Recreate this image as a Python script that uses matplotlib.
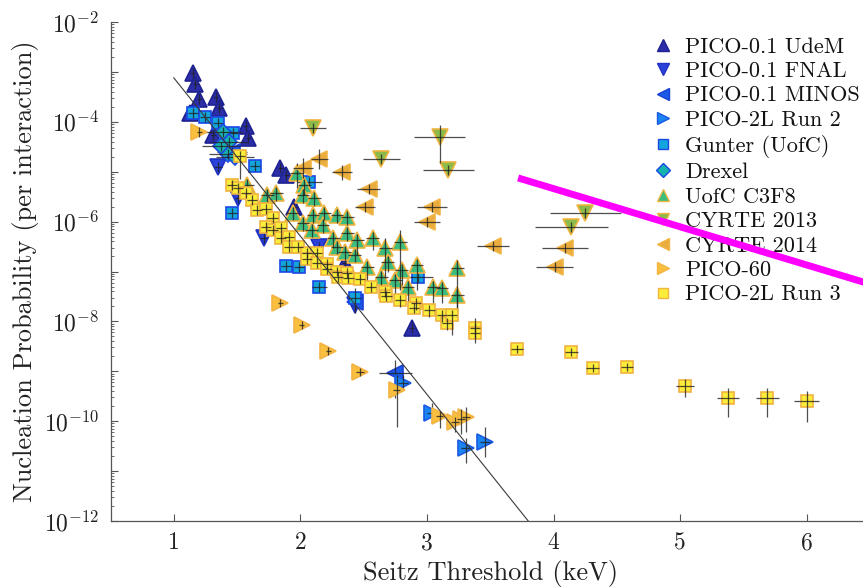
import numpy as np
import matplotlib
matplotlib.use("Agg")
import matplotlib.pyplot as plt
from matplotlib.lines import Line2D
from matplotlib.ticker import LogLocator, NullFormatter, FixedLocator, FixedFormatter

plt.rcParams['font.family'] = 'serif'
plt.rcParams['font.serif'] = ['cmr10']
plt.rcParams['mathtext.fontset'] = 'cm'
plt.rcParams['axes.formatter.use_mathtext'] = True

# ---------------- data (Seitz threshold in keV, nucleation probability) ----------------
udem_x = [1.15, 1.17, 1.20, 1.33, 1.36, 1.13, 1.31, 1.57, 1.59, 1.84, 1.89, 1.95, 2.35, 2.88]
udem_p = [9.5e-4, 5.8e-4, 2.8e-4, 3.2e-4, 1.9e-4, 1.5e-4, 5.5e-5, 8.3e-5, 4.8e-5, 1.2e-5, 8.5e-6, 2.0e-6, 1.5e-7, 7.4e-9]

fnal_x = [1.35, 1.51, 1.71, 2.15, 2.43]
fnal_p = [1.23e-5, 2.95e-6, 4.7e-7, 3.1e-7, 2.1e-8]

minos_x = [1.46, 2.43, 2.75]
minos_p = [2.5e-5, 2.5e-8, 9.3e-10]
minos_xerr = [0.12, 0.04, 0.13]
minos_dlo = [0.1, 0.1, 0.5]
minos_dhi = [0.1, 0.1, 0.26]

run2_x = [2.81, 3.04, 3.31, 3.46]
run2_p = [5.9e-10, 1.45e-10, 2.9e-11, 3.8e-11]
run2_xerr = [0.04, 0.04, 0.04, 0.04]
run2_dlo = [0.15, 0.2, 0.3, 0.3]
run2_dhi = [0.15, 0.2, 0.2, 0.3]

gunter_x = [1.15, 1.245, 1.35, 1.47, 1.64, 2.07, 1.46, 1.89, 1.99, 2.15, 2.43, 2.93]
gunter_p = [1.5e-4, 1.26e-4, 9.5e-5, 6.0e-5, 1.3e-5, 6.2e-6, 1.5e-6, 1.3e-7, 1.23e-7, 4.9e-8, 3.0e-8, 7.8e-8]
gunter_xerr = [0.04, 0.04, 0.04, 0.04, 0.04, 0.10, 0.04, 0.04, 0.04, 0.06, 0.05, 0.12]
gunter_dlo = [0.1, 0.1, 0.1, 0.1, 0.1, 0.1, 0.1, 0.1, 0.1, 0.1, 0.3, 0.1]
gunter_dhi = [0.1, 0.1, 0.1, 0.1, 0.1, 0.1, 0.1, 0.1, 0.1, 0.1, 0.2, 0.1]

drexel_x = [1.39, 1.44, 1.43, 1.48, 1.37]
drexel_p = [6.3e-5, 4.0e-5, 2.3e-5, 1.95e-5, 3.2e-5]
drexel_xerr = [0.15, 0.15, 0.15, 0.15, 0.15]

c3f8_x = [1.58, 1.74, 1.81, 1.97, 2.03, 2.02, 2.11, 1.94, 2.02, 2.10, 2.19, 2.29,
          2.37, 2.09, 2.18, 2.26, 2.37, 2.45, 2.57, 2.29, 2.35, 2.43, 2.53, 2.67,
          2.79, 2.69, 2.80, 2.64, 2.75, 2.85, 2.92, 3.05, 3.12, 3.24, 3.24]
c3f8_p = [5.4e-6, 3.4e-6, 3.7e-6, 9.3e-6, 5.4e-6, 3.4e-6, 2.95e-6, 1.5e-6, 9.3e-7, 1.35e-6, 1.5e-6, 1.35e-6,
          1.23e-6, 6.8e-7, 8.5e-7, 4.7e-7, 5.9e-7, 4.3e-7, 4.7e-7, 3.1e-7, 2.45e-7, 2.15e-7, 1.23e-7, 2.95e-7,
          3.9e-7, 1.55e-7, 1.07e-7, 7.8e-8, 6.8e-8, 4.9e-8, 1.35e-7, 4.9e-8, 4.7e-8, 1.17e-7, 3.4e-8]
c3f8_dlo = [0.15, 0.15, 0.15, 0.3, 0.2, 0.15, 0.15, 0.15, 0.15, 0.15, 0.15, 0.15,
            0.15, 0.15, 0.15, 0.2, 0.15, 0.3, 0.25, 0.15, 0.15, 0.15, 0.35, 0.6,
            0.96, 0.2, 0.3, 0.2, 0.3, 0.4, 0.5, 0.4, 0.3, 0.9, 0.3]
c3f8_dhi = [0.12, 0.12, 0.12, 0.2, 0.12, 0.12, 0.12, 0.12, 0.12, 0.12, 0.12, 0.12,
            0.12, 0.12, 0.12, 0.12, 0.12, 0.12, 0.12, 0.12, 0.12, 0.12, 0.12, 0.2,
            0.24, 0.12, 0.12, 0.12, 0.12, 0.12, 0.12, 0.12, 0.12, 0.16, 0.12]

cy13_x = [2.10, 2.64, 3.10, 3.17, 4.25, 4.14]
cy13_p = [7.6e-5, 1.8e-5, 5.0e-5, 1.07e-5, 1.5e-6, 7.8e-7]
cy13_xerr = [0.10, 0.145, 0.20, 0.20, 0.28, 0.29]
cy13_dlo = [0.1, 0.1, 0.52, 0.1, 0.1, 0.1]
cy13_dhi = [0.1, 0.1, 0.24, 0.1, 0.1, 0.1]

cy14_x = [2.02, 2.15, 2.33, 2.54, 2.51, 3.04, 3.00, 3.52, 4.09, 4.01]
cy14_p = [1.17e-5, 1.8e-5, 9.8e-6, 4.5e-6, 1.95e-6, 1.95e-6, 9.8e-7, 3.2e-7, 2.95e-7, 1.23e-7]
cy14_xerr = [0.08, 0.07, 0.08, 0.09, 0.08, 0.12, 0.10, 0.125, 0.18, 0.145]
cy14_dlo = [0.2, 0.2, 0.15, 0.1, 0.1, 0.1, 0.1, 0.1, 0.1, 0.1]
cy14_dhi = [0.2, 0.2, 0.15, 0.1, 0.1, 0.1, 0.1, 0.1, 0.1, 0.1]

p60_x = [1.20, 1.84, 2.01, 2.22, 2.47, 2.76, 3.10, 3.22, 3.27, 3.31]
p60_p = [6.3e-5, 2.35e-8, 8.5e-9, 2.6e-9, 9.8e-10, 4.3e-10, 1.3e-10, 9.5e-11, 1.1e-10, 1.2e-10]
p60_xerr = [0.02, 0.02, 0.02, 0.02, 0.03, 0.03, 0.03, 0.03, 0.03, 0.03]
p60_dlo = [0.1, 0.08, 0.08, 0.08, 0.08, 0.75, 0.25, 0.2, 0.3, 0.3]
p60_dhi = [0.1, 0.08, 0.08, 0.08, 0.08, 0.3, 0.1, 0.1, 0.2, 0.2]

run3_x = [1.52, 1.46, 1.51, 1.57, 1.62, 1.66, 1.73, 1.78, 1.73, 1.78, 1.85, 1.85,
          1.91, 1.91, 1.98, 2.05, 2.13, 2.05, 2.13, 2.21, 2.21, 2.29, 2.30, 2.37,
          2.38, 2.47, 2.56, 2.67, 2.68, 2.79, 2.91, 2.90, 3.02, 3.12, 3.16, 3.20,
          3.38, 3.38, 3.71, 4.14, 4.31, 4.58, 5.04, 5.38, 5.69, 6.00]
run3_p = [2.1e-5, 5.4e-6, 4.7e-6, 3.7e-6, 2.7e-6, 1.7e-6, 1.8e-6, 1.17e-6, 7.8e-7, 6.8e-7, 7.4e-7, 4.7e-7,
          4.9e-7, 3.1e-7, 3.1e-7, 2.35e-7, 2.35e-7, 1.8e-7, 1.5e-7, 1.4e-7, 1.12e-7, 1.0e-7, 7.8e-8, 9.3e-8,
          7.4e-8, 7.1e-8, 4.9e-8, 3.9e-8, 3.2e-8, 2.7e-8, 2.35e-8, 1.86e-8, 1.7e-8, 1.35e-8, 9.3e-9, 1.35e-8,
          7.4e-9, 5.9e-9, 2.8e-9, 2.45e-9, 1.17e-9, 1.23e-9, 5.1e-10, 2.95e-10, 2.95e-10, 2.5e-10]
run3_xerr = [0.04] * 38 + [0.05, 0.05, 0.05, 0.05, 0.07, 0.085, 0.09, 0.10]
run3_dlo = [0.46, 0.1, 0.1, 0.1, 0.1, 0.1, 0.1, 0.1, 0.1, 0.1, 0.1, 0.1,
            0.1, 0.1, 0.1, 0.1, 0.1, 0.1, 0.1, 0.1, 0.1, 0.1, 0.1, 0.1,
            0.1, 0.1, 0.1, 0.1, 0.1, 0.15, 0.15, 0.1, 0.15, 0.15, 0.15, 0.4,
            0.2, 0.2, 0.08, 0.08, 0.08, 0.08, 0.22, 0.38, 0.38, 0.42]
run3_dhi = [0.1, 0.1, 0.1, 0.1, 0.1, 0.1, 0.1, 0.1, 0.1, 0.1, 0.1, 0.1,
            0.1, 0.1, 0.1, 0.1, 0.1, 0.1, 0.1, 0.1, 0.1, 0.1, 0.1, 0.1,
            0.1, 0.1, 0.1, 0.1, 0.1, 0.1, 0.1, 0.1, 0.1, 0.1, 0.1, 0.1,
            0.2, 0.2, 0.08, 0.08, 0.08, 0.08, 0.14, 0.2, 0.2, 0.2]

# reference lines
fit_x = [1.0, 3.80]
fit_p = [7.6e-4, 1.0e-12]
limit_x = [3.72, 6.5]
limit_p = [7.5e-6, 5.6e-8]

# ---------------- figure ----------------
W, H = 863, 588
fig = plt.figure(figsize=(W / 100, H / 100), dpi=100)
ax = fig.add_axes([110.5 / W, (H - 521) / H, (870 - 110.5) / W, (521 - 22) / H])

def draw(x, p, marker, ms, fc, ec, label, z, xerr=0.04, dlo=0.1, dhi=0.1, lms=None):
    x = np.asarray(x, float)
    p = np.asarray(p, float)
    dlo = np.broadcast_to(np.asarray(dlo, float), p.shape)
    dhi = np.broadcast_to(np.asarray(dhi, float), p.shape)
    xerr = np.broadcast_to(np.asarray(xerr, float), p.shape)
    ax.plot(x, p, ls='none', marker=marker, ms=ms, mfc=fc, mec=ec, mew=1.2, zorder=z)
    yerr = np.vstack([p - p * 10 ** (-dlo), p * 10 ** dhi - p])
    ax.errorbar(x, p, xerr=xerr, yerr=yerr, fmt='none', ecolor='#222222',
                elinewidth=0.9, alpha=0.8, capsize=0, zorder=z + 0.1)
    return Line2D([], [], ls='none', marker=marker, ms=lms if lms else ms * 0.8,
                  mfc=fc, mec=ec, mew=1.0, label=label)

handles = [
    draw(udem_x, udem_p, '^', 11, '#2b2ea8', '#1e2290', 'PICO-0.1 UdeM', 3.0, xerr=0.02),
    draw(fnal_x, fnal_p, 'v', 11, '#2a42d8', '#1f32c4', 'PICO-0.1 FNAL', 3.2, xerr=0.03),
    draw(minos_x, minos_p, '<', 11, '#1c5ae8', '#1a40d4', 'PICO-0.1 MINOS', 3.4,
         xerr=minos_xerr, dlo=minos_dlo, dhi=minos_dhi),
    draw(run2_x, run2_p, '>', 11, '#1a84f0', '#1a5ae4', 'PICO-2L Run 2', 3.6,
         xerr=run2_xerr, dlo=run2_dlo, dhi=run2_dhi),
    draw(gunter_x, gunter_p, 's', 9, '#14a4dc', '#1a48e6', 'Gunter (UofC)', 3.8,
         xerr=gunter_xerr, dlo=gunter_dlo, dhi=gunter_dhi, lms=7),
    draw(drexel_x, drexel_p, 'D', 8, '#16b2b0', '#1a48e6', 'Drexel', 4.0,
         xerr=drexel_xerr, lms=7),
    draw(c3f8_x, c3f8_p, '^', 11, '#3cbd7e', '#f0b441', 'UofC C3F8', 4.2,
         xerr=0.05, dlo=c3f8_dlo, dhi=c3f8_dhi),
    draw(cy13_x, cy13_p, 'v', 11, '#8cbb4a', '#f0b441', 'CYRTE 2013', 4.4,
         xerr=cy13_xerr, dlo=cy13_dlo, dhi=cy13_dhi),
    draw(cy14_x, cy14_p, '<', 11, '#eaac3c', '#f2b648', 'CYRTE 2014', 4.6,
         xerr=cy14_xerr, dlo=cy14_dlo, dhi=cy14_dhi),
    draw(p60_x, p60_p, '>', 11, '#f8c03e', '#f3b444', 'PICO-60', 4.8,
         xerr=p60_xerr, dlo=p60_dlo, dhi=p60_dhi),
    draw(run3_x, run3_p, 's', 9, '#fced3a', '#f0b441', 'PICO-2L Run 3', 5.0,
         xerr=run3_xerr, dlo=run3_dlo, dhi=run3_dhi, lms=7),
]

ax.plot(fit_x, fit_p, color='#3a3a3a', lw=0.8, zorder=6)
ax.plot(limit_x, limit_p, color='#ff00ff', lw=5, solid_capstyle='butt', zorder=12,
        clip_on=False)

ax.set_yscale('log')
ax.set_xlim(0.5, 6.5)
ax.set_ylim(1e-12, 1e-2)

ax.xaxis.set_major_locator(FixedLocator([1, 2, 3, 4, 5, 6]))
ax.xaxis.set_major_formatter(FixedFormatter(['1', '2', '3', '4', '5', '6']))
ax.yaxis.set_major_locator(FixedLocator([10.0 ** k for k in range(-12, -1)]))
ax.yaxis.set_major_formatter(FixedFormatter(
    [r'$10^{%d}$' % k if k % 2 == 0 else '' for k in range(-12, -1)]))
ax.yaxis.set_minor_locator(LogLocator(base=10, subs=np.arange(2, 10), numticks=100))
ax.yaxis.set_minor_formatter(NullFormatter())

for s in ('top', 'right'):
    ax.spines[s].set_visible(False)
for s in ('left', 'bottom'):
    ax.spines[s].set_color('#555555')
    ax.spines[s].set_linewidth(0.9)
ax.tick_params(which='major', direction='in', length=5, width=0.8, color='#555555',
               labelsize=17, labelcolor='#222222', pad=8)
ax.tick_params(which='minor', direction='in', length=2.5, width=0.6, color='#555555')

ax.set_xlabel('Seitz Threshold (keV)', fontsize=19, color='#222222', labelpad=4)
ax.set_ylabel('Nucleation Probability (per interaction)', fontsize=19,
              color='#222222', labelpad=4)

leg = ax.legend(handles=handles, loc='upper left', bbox_to_anchor=(652 / W, 1 - 37 / H),
                bbox_transform=fig.transFigure, frameon=False, fontsize=16,
                handlelength=1.0, handletextpad=0.5, labelspacing=0.22, borderpad=0,
                borderaxespad=0)
leg.set_zorder(8)
for t in leg.get_texts():
    t.set_color('#111111')

fig.savefig('out.png', dpi=100)
